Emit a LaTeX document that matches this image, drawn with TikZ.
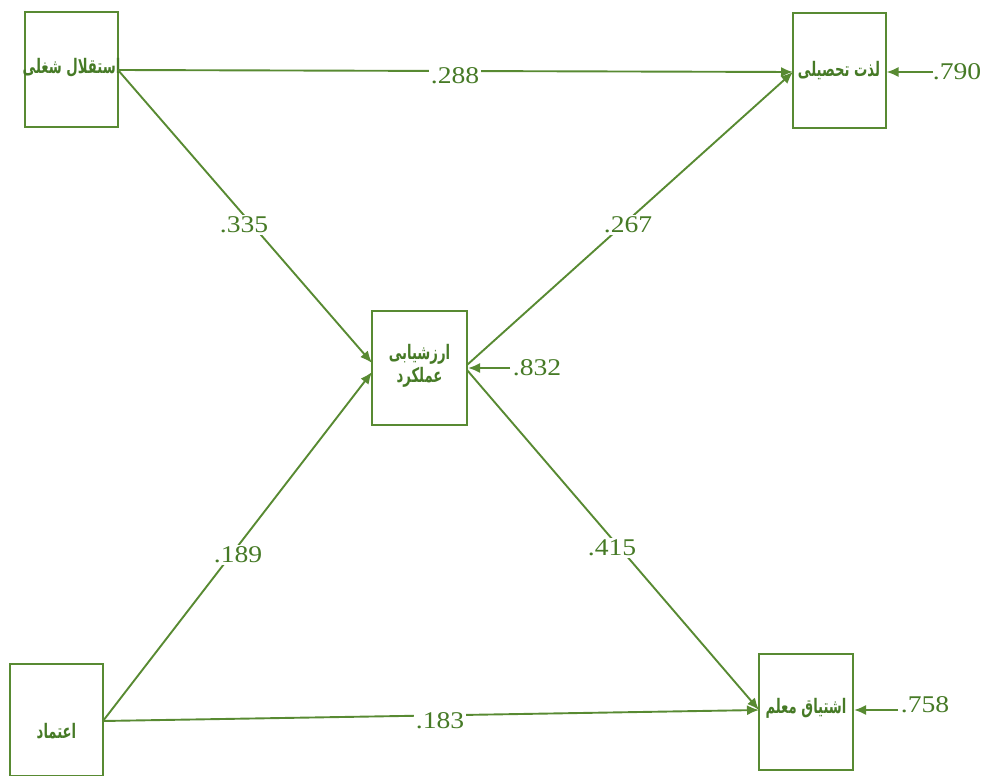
\documentclass[tikz,border=0pt]{standalone}
\usepackage{fontspec}
\setmainfont{Liberation Serif}
\newfontfamily\numfont[FakeStretch=1.15]{Liberation Serif}
\newfontfamily\arabicfont[Script=Arabic,FakeStretch=0.66]{DejaVu Sans}
\TeXXeTstate=1
\usetikzlibrary{arrows.meta}
\definecolor{pgreen}{RGB}{88,138,50}
\definecolor{tgreen}{RGB}{70,122,38}
\tikzset{
  varbox/.style={draw=pgreen, line width=2pt, minimum width=93pt, minimum height=115pt, inner sep=0pt},
  vtext/.style={text=tgreen, font=\arabicfont\bfseries\fontsize{20}{23}\selectfont, align=center, inner sep=0pt},
  coef/.style={text=tgreen, font=\numfont\fontsize{24}{26}\selectfont, fill=white, inner sep=1.5pt},
  errlab/.style={text=tgreen, font=\numfont\fontsize{24}{26}\selectfont, inner sep=2pt},
  arr/.style={draw=pgreen, line width=1.9pt, -{Latex[length=12pt,width=10pt]}},
}
\begin{document}
\begin{tikzpicture}[x=1pt,y=-1pt]
\useasboundingbox (0,0) rectangle (986,776);
% boxes
\node[varbox] (A) at (71.5,69.5) {};
\node[varbox] (B) at (839,70.5) {};
\node[varbox, minimum width=95pt, minimum height=114pt] (C) at (419.5,368) {};
\node[varbox, minimum height=112pt] (D) at (56.5,720) {};
\node[varbox, minimum width=94pt, minimum height=116pt] (E) at (806,712) {};
% texts
\node[vtext] (tA) at (71.5,68) {\beginR استقلال شغلی\endR};
\node[vtext] (tB) at (839,71) {\beginR لذت تحصیلی\endR};
\node[vtext] (tC) at (419.5,366) {\beginR ارزشیابی\endR\\\beginR عملکرد\endR};
\node[vtext] (tD) at (56.5,731) {\beginR اعتماد\endR};
\node[vtext] (tE) at (806,708) {\beginR اشتیاق معلم\endR};
% anchor points
\coordinate (Aout) at (118,70);
\coordinate (Bin) at (793,72);
\coordinate (Cin1) at (372,363);
\coordinate (Cin2) at (372,372);
\coordinate (Cout1) at (467,365);
\coordinate (Cout2) at (467,370);
\coordinate (Dout) at (103,721);
\coordinate (Ein) at (759,710);
% paths
\draw[arr] (Aout) -- (Bin);
\draw[arr] (Aout) -- (Cin1);
\draw[arr] (Cout1) -- (Bin);
\draw[arr] (Dout) -- (Cin2);
\draw[arr] (Cout2) -- (Ein);
\draw[arr] (Dout) -- (Ein);
% coefficients
\node[coef] (c1) at (455,76) {.288};
\node[coef] (c2) at (244,225) {.335};
\node[coef] (c3) at (628,225) {.267};
\node[coef] (c4) at (238,555) {.189};
\node[coef] (c5) at (612,548) {.415};
\node[coef] (c6) at (440,721) {.183};
% errors
\node[errlab] (e1) at (957,72) {.790};
\node[errlab] (e2) at (537,368) {.832};
\node[errlab] (e3) at (925,705) {.758};
\coordinate (e1s) at (933,72);
\coordinate (e2s) at (510,368);
\coordinate (e3s) at (898,710);
\draw[arr] (e1s) -- (B.east |- e1s);
\draw[arr] (e2s) -- (C.east |- e2s);
\draw[arr] (e3s) -- (E.east |- e3s);
\end{tikzpicture}
\end{document}
